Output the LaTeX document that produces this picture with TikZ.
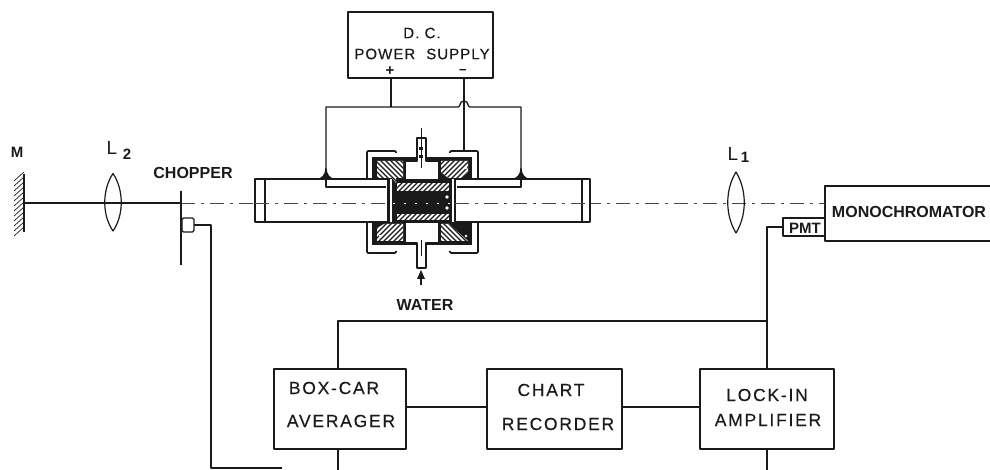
\documentclass[tikz,border=0pt]{standalone}
\usepackage{fontspec}
\setmainfont{Liberation Sans}
\newfontfamily\spacedf[LetterSpace=10,FakeBold=0.25]{Liberation Sans}
\newfontfamily\spacedg[LetterSpace=7,FakeBold=0.25]{Liberation Sans}
\begin{document}
\begin{tikzpicture}[x=1pt,y=-1pt,line join=round,
  wire/.style={draw=ink,line width=1.3pt},
  thick wire/.style={draw=ink,line width=1.6pt},
  boxn/.style={draw=ink,line width=1.4pt,fill=white,inner sep=0pt,outer sep=0pt},
  lab/.style={text=ink,inner sep=0pt,font=\spacedf\fontsize{17.5}{18}\selectfont},
  slab/.style={text=ink,inner sep=0pt,font=\spacedg\fontsize{15}{16}\selectfont},
  blab/.style={text=ink,inner sep=0pt,font=\fontsize{16}{17}\selectfont\bfseries},
  lenss/.style={draw=ink,line width=1.2pt,fill=none},
  axisl/.style={draw=ink!80,line width=.7pt,dash pattern=on 14pt off 6pt on 3pt off 6pt},
  framel/.style={draw=ink,line width=1.6pt,rounded corners=1pt},
  hatchl/.style={draw=ink,line width=1.2pt}]
\definecolor{ink}{HTML}{1A1A1A}
\useasboundingbox (0,0) rectangle (990,470);
\clip (0,0) rectangle (990,470);
\newcommand{\hatchfill}[2]{%
  \begin{scope}
  \fill[white] #1;
  \clip #1;
  \foreach \k in {-300,-295,...,900}{\draw[hatchl] (\k,100) -- ++(#2*200,200);}
  \end{scope}}
% boxes
\node[boxn,minimum width=145pt,minimum height=66pt] (psu) at (420.5,45) {};
\node[boxn,minimum width=132pt,minimum height=80pt] (avg) at (340,409) {};
\node[boxn,minimum width=135pt,minimum height=80pt] (rec) at (554.5,409) {};
\node[boxn,minimum width=134pt,minimum height=80pt] (lia) at (767,409) {};
\node[boxn,minimum width=175pt,minimum height=55pt] (mono) at (912.5,213.5) {};
\node[boxn,minimum width=42pt,minimum height=18pt] (pmt) at (804,227) {};
% box texts
\node[slab] (t1) at (422,33) {D. C.};
\node[slab] (t2) at (422,54) {POWER\hspace{11pt}SUPPLY};
\node[lab] (t3) at (334,388) {BOX-CAR};
\node[lab] (t4) at (341,421) {AVERAGER};
\node[lab] (t5) at (551,390) {CHART};
\node[lab] (t6) at (558,424) {RECORDER};
\node[lab] (t7) at (767,395) {LOCK-IN};
\node[lab] (t8) at (768,420) {AMPLIFIER};
\node[blab] (t9) at (909,212) {MONOCHROMATOR};
\node[blab,font=\fontsize{15}{16}\selectfont\bfseries] (t10) at (805,228) {PMT};
\node[blab] (t11) at (193,173) {CHOPPER};
\node[blab,font=\fontsize{15}{16}\selectfont\bfseries] (t12) at (17,152) {M};
\node[blab] (t13) at (425,305) {WATER};
\node[text=ink,inner sep=0pt,font=\fontsize{19}{20}\selectfont] (t14) at (112,148) {L};
\node[text=ink,inner sep=0pt,font=\fontsize{15}{18}\selectfont\bfseries] (t15) at (127,154) {2};
\node[text=ink,inner sep=0pt,font=\fontsize{19}{20}\selectfont] (t16) at (733,154) {L};
\node[text=ink,inner sep=0pt,font=\fontsize{15}{18}\selectfont\bfseries] (t17) at (745,157) {1};
\node[text=ink,inner sep=0pt,font=\fontsize{15}{16}\selectfont\bfseries] (t18) at (390,71) {+};
\node[text=ink,inner sep=0pt,font=\fontsize{13}{14}\selectfont\bfseries] (t19) at (463,72) {−};
% coordinates
\coordinate (wt) at (391,107);
\coordinate (minb) at (464,78);
\coordinate (mint) at (464,151);
\coordinate (jl) at (326,178);
\coordinate (jr) at (521,178);
\coordinate (axL) at (24,203);
\coordinate (axC) at (181,203);
\coordinate (axR) at (825,203);
\coordinate (midy) at (0,407);
% optical axis
\draw[wire] (axL) -- (axC);
\draw[axisl] (axC) -- (axR);
% mirror
\coordinate (mt) at (24,174);
\coordinate (mb) at (24,232);
\foreach \y in {178,183,...,233}{\draw[draw=ink,line width=.7pt] (24,\y-6) -- (14,\y+3);}
\draw[thick wire] (mt) -- (mb);
% lenses
\draw[lenss] (113,173.5) .. controls (102,190) and (102,215) .. (113,231) .. controls (124,215) and (124,190) .. (113,173.5) -- cycle;
\draw[lenss] (736,172) .. controls (725,190) and (725,215) .. (736,233) .. controls (747,215) and (747,190) .. (736,172) -- cycle;
% chopper
\draw[draw=ink,line width=2.8pt] (181,191) -- (181,265);
\node[boxn,minimum width=12pt,minimum height=14pt,rounded corners=1.5pt] (mot) at (188,225) {};
\coordinate (c1) at (211,225);
\coordinate (c2) at (211,468);
\coordinate (c3) at (282,468);
\draw[wire] (mot.east) -- (c1) -- (c2) -- (c3);
% electronics wiring
\coordinate (w1) at (338,321);
\coordinate (w2) at (767,321);
\coordinate (w3) at (767,227);
\coordinate (ab) at (338,470);
\coordinate (lb) at (767,470);
\draw[wire] (avg.north -| w1) -- (w1) -- (w2);
\draw[wire] (lia.north -| w2) -- (w3) -- (pmt.west);
\draw[wire] (avg.east |- midy) -- (rec.west |- midy);
\draw[wire] (rec.east |- midy) -- (lia.west |- midy);
\draw[wire] (avg.south -| ab) -- (ab);
\draw[wire] (lia.south -| lb) -- (lb);
% supply wiring
\draw[wire] (391,78) -- (wt);
\draw[wire] (jl) -- (326,107) -- (458,107) .. controls (461,107) and (459,101) .. (464,101) .. controls (469,101) and (467,107) .. (470,107) -- (521,107) -- (jr);
\draw[wire] (minb) -- (mint);
% outer frame of cell
\draw[framel] (396,153) -- (396,151) -- (367,151) -- (367,178);
\draw[framel] (450,153) -- (450,151) -- (478,151) -- (478,178);
\draw[framel] (396,251) -- (396,253) -- (367,253) -- (367,222);
\draw[framel] (450,251) -- (450,253) -- (478,253) -- (478,222);
% tubes
\draw[boxn] (255,179) rectangle (388,222);
\draw[boxn] (455,179) rectangle (590,222);
\draw[wire] (265,179) -- (265,222);
\draw[wire] (582,179) -- (582,222);
\draw[wire] (326,178) -- (326,187) -- (386,187);
\draw[wire] (521,178) -- (521,187) -- (457,187);
\draw[axisl] (255,203) -- (388,203);
\draw[axisl] (455,203) -- (590,203);
% contact blobs
\fill[ink] (316,179.5) .. controls (322,178) and (325,175) .. (325.5,168) -- (326.5,168) .. controls (327,175) and (330,178) .. (336,179.5) -- cycle;
\fill[ink] (511,179.5) .. controls (517,178) and (520,175) .. (520.5,168) -- (521.5,168) .. controls (522,175) and (525,178) .. (531,179.5) -- cycle;
% cell body
\fill[ink] (372,157) rectangle (472,179);
\fill[ink] (372,222) rectangle (472,245);
\fill[ink] (388,179) rectangle (455,222);
\fill[white] (389.5,179) rectangle (392,222);
\fill[white] (451.5,179) rectangle (454,222);
\hatchfill{(377,161) -- (403,161) -- (403,178) -- (396,178) -- (396,183) -- (392,178) -- (377,178) -- cycle}{1}
\hatchfill{(441,161) -- (468,161) -- (468,172) -- (461,178) -- (448,178) -- (441,172) -- cycle}{-1}
\hatchfill{(377,228) -- (384,224) -- (403,224) -- (403,241) -- (377,241) -- cycle}{-1}
\hatchfill{(441,224) -- (449,224) -- (468,241) -- (441,241) -- cycle}{1}
\hatchfill{(397,183) -- (449,183) -- (449,191) -- (397,191) -- cycle}{-1}
\hatchfill{(397,214) -- (449,214) -- (449,220) -- (397,220) -- cycle}{-1}
\fill[ink] (444,192) rectangle (449,214);
% chambers and nozzles
\draw[draw=ink,line width=1.5pt,fill=white] (405,180) -- (405,161) -- (417,161) -- (417,138) -- (426,138) -- (426,161) -- (439,161) -- (439,180) -- cycle;
\draw[draw=ink,line width=1.5pt,fill=white] (405,222) -- (405,243) -- (417,243) -- (417,268) -- (426,268) -- (426,243) -- (439,243) -- (439,222) -- cycle;
\coordinate (ntop) at (421,128);
\coordinate (nbot) at (421,168);
\draw[draw=ink,line width=.8pt] (ntop) -- (nbot);
\fill[ink] (419,147) rectangle (423,150);
\fill[ink] (419,155) rectangle (423,158);
\draw[draw=ink,line width=.8pt] (421,240) -- (421,256);
% water arrow
\coordinate (wa) at (421,285);
\coordinate (wb) at (421,270);
\draw[draw=ink,line width=1.3pt] (wa) -- (421,276);
\fill[ink] (wb) -- (417,279) -- (425,279) -- cycle;
% dashed centre in the black core
\draw[draw=white,line width=.8pt,dash pattern=on 2pt off 9pt] (393,203) -- (450,203);
\fill[white] (447,197) circle (1.8pt);
\fill[white] (447,208) circle (1.8pt);
\foreach \p in {(380,168),(466,168),(380,236),(466,236)}{\fill[white] \p circle (1.3pt);}
\end{tikzpicture}
\end{document}
